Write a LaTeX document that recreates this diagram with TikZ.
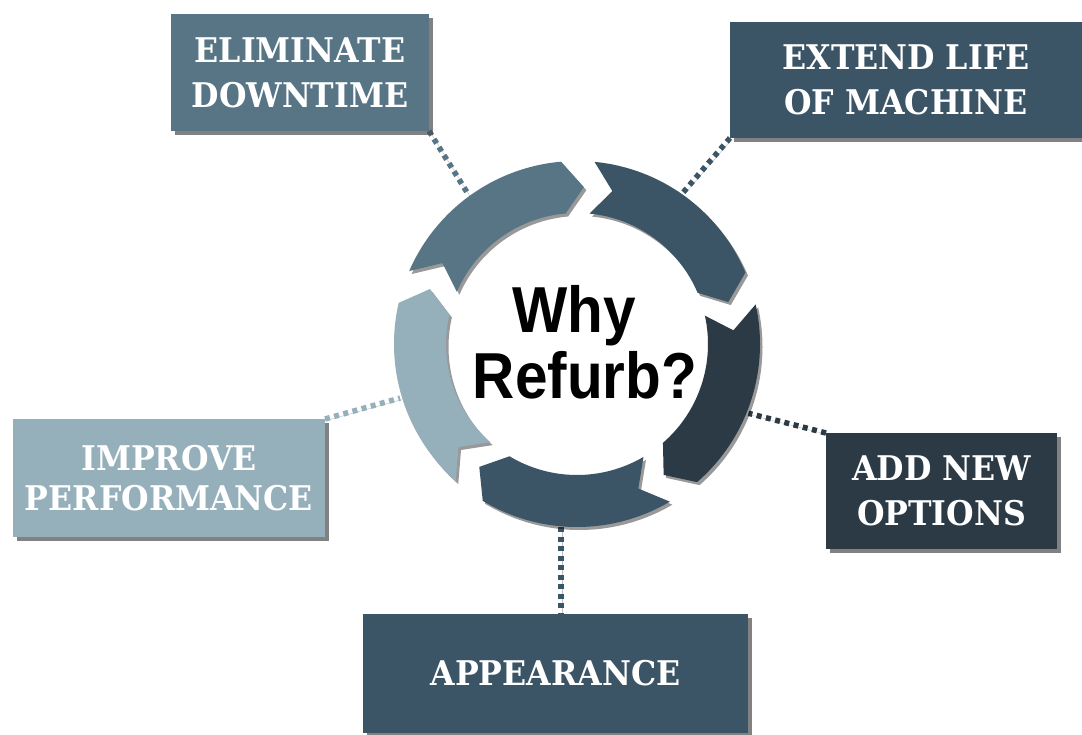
\documentclass[tikz,border=0pt]{standalone}
\usepackage{fontspec}
\newfontfamily\boxfont[FakeStretch=0.93]{DejaVu Serif}
\newfontfamily\titlefont{Liberation Sans}
\usetikzlibrary{shadows,calc}
\pgfdeclarelayer{bg}
\pgfsetlayers{bg,main}
\definecolor{cmid}{HTML}{587586}
\definecolor{cdark}{HTML}{3C5566}
\definecolor{cdarker}{HTML}{2B3A44}
\definecolor{clight}{HTML}{95AFBB}
\tikzset{
  box/.style={rectangle, inner sep=0pt, outer sep=0pt, text=white, align=center,
    font=\boxfont\bfseries\fontsize{34}{45}\selectfont,
    drop shadow={shadow xshift=4pt, shadow yshift=-4pt, opacity=0.7, fill=black!70}},
  link/.style={line width=5.5pt, dash pattern=on 5pt off 4.5pt,
    preaction={draw=black, opacity=0.25, transform canvas={shift={(1.5pt,-1.5pt)}}}},
  segshadow/.style={drop shadow={shadow xshift=2.5pt, shadow yshift=-3pt, opacity=0.4, fill=black}},
  titletext/.style={font=\titlefont\bfseries\fontsize{65}{66}\selectfont, inner sep=0pt, anchor=base, xscale=0.9}
}
\begin{document}
\begin{tikzpicture}[x=1pt,y=1pt]
\begin{pgfonlayer}{bg}
\useasboundingbox[fill=white] (0,0) rectangle (1082,-734);
\end{pgfonlayer}
\coordinate (ctr) at (577,-344);
% connector end points on the ring
\coordinate (e1) at ($(ctr)+(126:185pt)$);
\coordinate (e2) at ($(ctr)+(55:185pt)$);
\coordinate (e3) at ($(ctr)+(197:185pt)$);
\coordinate (e4) at ($(ctr)+(-22:185pt)$);
\coordinate (e5) at ($(ctr)+(-95:184pt)$);
% boxes
\node[box, fill=cmid, minimum width=258pt, minimum height=117pt] (elim) at (300,-72.5) {ELIMINATE\\DOWNTIME};
\node[box, fill=cdark, minimum width=352pt, minimum height=116pt] (extend) at (906,-80) {EXTEND LIFE\\OF MACHINE};
\node[box, fill=clight, minimum width=312pt, minimum height=118pt, font=\boxfont\bfseries\fontsize{34}{40}\selectfont] (improve) at (169,-478) {IMPROVE\\PERFORMANCE};
\node[box, fill=cdarker, minimum width=231pt, minimum height=116pt] (addnew) at (941.5,-491) {ADD NEW\\OPTIONS};
\node[box, fill=cdark, minimum width=385pt, minimum height=119pt] (appear) at (555.5,-673.5) {APPEARANCE};
% connectors
\begin{pgfonlayer}{bg}
\draw[link, cmid] (elim.south east) -- (e1);
\draw[link, cdark] (extend.south west) -- (e2);
\draw[link, clight] (improve.north east) -- (e3);
\draw[link, cdarker] (addnew.north west) -- (e4);
\draw[link, cdark] (e5) -- (e5 |- appear.north);
\end{pgfonlayer}
% ring
\foreach \a/\c in {158/cmid, 86/cdark, 14/cdarker, -58/cdark, -130/clight} {
  \pgfmathsetmacro\ta{\a-1.5}
  \pgfmathsetmacro\tn{\a-9}
  \pgfmathsetmacro\hb{\a-72+9}
  \pgfmathsetmacro\ht{\a-72+1.5}
  \fill[\c, segshadow, shift={(577,-344)}] (\ta:183pt) arc[start angle=\ta, end angle=\hb, radius=183pt]
    -- (\ht:157pt) -- (\hb:131pt) arc[start angle=\hb, end angle=\ta, radius=131pt]
    -- (\tn:157pt) -- cycle;
}
% title
\node[titletext] (why) at (574,-332) {Why};
\node[titletext] (refurb) at (585,-398) {Refurb?};
\end{tikzpicture}
\end{document}
